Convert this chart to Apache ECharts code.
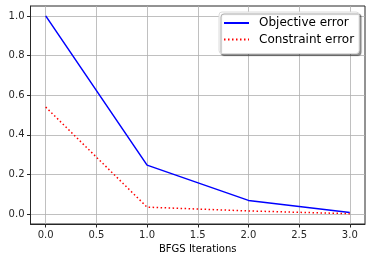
<!DOCTYPE html>
<html>
<head>
<meta charset="utf-8">
<script src="https://cdn.jsdelivr.net/npm/echarts@6/dist/echarts.min.js"></script>
<style>html,body{margin:0;padding:0;background:#fff}#c{width:372px;height:262px}</style>
</head>
<body>
<div id="c"></div>
<script>
const iterations = [0, 1, 2, 3];
const objectiveError = [1.0, 0.247, 0.069, 0.008];
const constraintError = [0.540, 0.035, 0.016, 0.002];
const xTicks = [0, 0.5, 1.0, 1.5, 2.0, 2.5, 3.0];
const yTicks = [0, 0.2, 0.4, 0.6, 0.8, 1.0];
const xTitle = 'BFGS Iterations';

const chart = echarts.init(document.getElementById('c'), null, {renderer: 'canvas'});
const font = 'DejaVu Sans';
const gridLine = {show: true, lineStyle: {color: '#b0b0b0', width: 0.8}};
chart.setOption({
  animation: false,
  backgroundColor: '#fff',
  grid: {left: 30.5, right: 7, top: 6, bottom: 38, show: true, borderColor: '#262626', borderWidth: 1, backgroundColor: 'transparent'},
  legend: {
    orient: 'vertical', left: 219, top: 12,
    padding: [5, 5, 8, 4], itemGap: 4.5,
    itemWidth: 25, itemHeight: 14,
    backgroundColor: '#fff', borderColor: '#dcdcdc', borderWidth: 1, borderRadius: 3,
    shadowColor: 'rgba(0,0,0,0.4)', shadowBlur: 1, shadowOffsetX: 2, shadowOffsetY: 2,
    itemStyle: {opacity: 0},
    textStyle: {fontFamily: font, fontSize: 12, color: '#000', padding: [0, 0, 0, 5]},
    data: ['Objective error', 'Constraint error']
  },
  xAxis: {
    type: 'value', min: -0.15, max: 3.15,
    name: xTitle, nameLocation: 'middle', nameGap: 20,
    nameTextStyle: {fontFamily: font, fontSize: 10, color: '#000'},
    axisLine: {show: true, onZero: false, lineStyle: {color: '#262626', width: 1}},
    axisTick: {show: true, length: 3.5, customValues: xTicks, lineStyle: {color: '#262626'}},
    axisLabel: {customValues: xTicks, margin: 6, fontFamily: font, fontSize: 10, color: '#262626', formatter: v => v.toFixed(1)},
    splitLine: gridLine
  },
  yAxis: {
    type: 'value', min: -0.05, max: 1.05,
    axisLine: {show: true, onZero: false, lineStyle: {color: '#262626', width: 1}},
    axisTick: {show: true, length: 3.5, customValues: yTicks, lineStyle: {color: '#262626'}},
    axisLabel: {customValues: yTicks, margin: 6, fontFamily: font, fontSize: 10, color: '#262626', formatter: v => v.toFixed(1)},
    splitLine: gridLine
  },
  series: [
    {
      name: 'Objective error', type: 'line', symbol: 'none',
      data: iterations.map((x, i) => [x, objectiveError[i]]),
      lineStyle: {color: '#0000ff', width: 1.5}, itemStyle: {color: '#0000ff'}
    },
    {
      name: 'Constraint error', type: 'line', symbol: 'none',
      data: iterations.map((x, i) => [x, constraintError[i]]),
      lineStyle: {color: '#ff0000', width: 1.5, type: [1.5, 2.5]}, itemStyle: {color: '#ff0000'}
    }
  ]
});
</script>
</body>
</html>
